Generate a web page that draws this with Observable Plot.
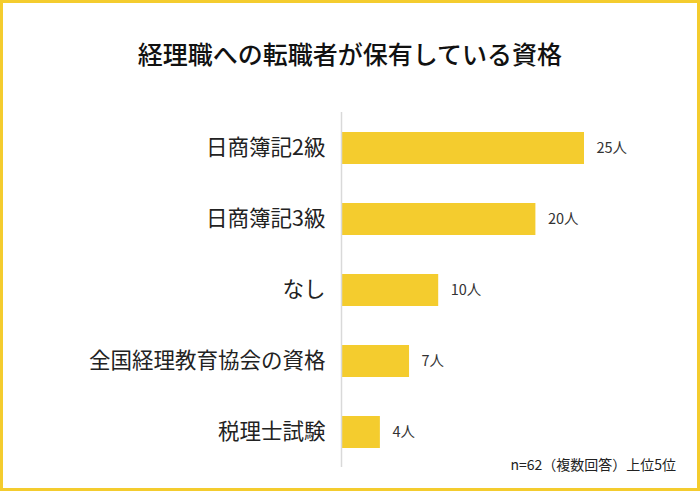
<!DOCTYPE html>
<html>
<head>
<meta charset="utf-8">
<script src="https://cdn.jsdelivr.net/npm/d3@7"></script>
<script src="https://cdn.jsdelivr.net/npm/@observablehq/plot@0.6"></script>
<style>
  html, body { margin: 0; padding: 0; background: #fff; }
  #wrap { position: relative; width: 700px; height: 491px; background: #fff; overflow: hidden;
          font-family: "Noto Sans CJK JP", "Noto Sans", sans-serif; }
  #title { height: 100px; box-sizing: border-box; padding-top: 6px; display: flex; align-items: center;
           justify-content: center; font-size: 25px; color: #111; font-weight: 500; }
  #frame { position: absolute; left: 0; top: 0; width: 700px; height: 491px; box-sizing: border-box;
           border: 3px solid #F4CC2E; pointer-events: none; }
  #note { position: absolute; right: 24px; top: 454px; font-size: 14px; color: #222; }
  svg { display: block; }
</style>
</head>
<body>
<div id="wrap">
  <div id="title">経理職への転職者が保有している資格</div>
  <div id="chart"></div>
  <div id="note">n=62（複数回答）上位5位</div>
  <div id="frame"></div>
</div>
<script>
const categories = ["日商簿記2級", "日商簿記3級", "なし", "全国経理教育協会の資格", "税理士試験"];
const counts = [25, 20, 10, 7, 4];
const unit = "人";

const data = categories.map((c, i) => ({category: c, value: counts[i]}));
const barColor = "#F4CC2E";

const chart = Plot.plot({
  width: 700,
  height: 391,
  marginTop: 12,
  marginBottom: 24,
  marginLeft: 341,
  marginRight: 116,
  style: {fontFamily: "'Noto Sans CJK JP', 'Noto Sans', sans-serif", background: "transparent"},
  x: {domain: [0, 25], axis: null},
  y: {domain: categories, paddingInner: 0.55, paddingOuter: 0.275, label: null},
  axis: null,
  marks: [
    Plot.axisY({tickSize: 0, tickPadding: 16, fontSize: 21.5, color: "#222", label: null}),
    Plot.barX(data, {x: "value", y: "category", fill: barColor}),
    Plot.ruleX([0], {stroke: "#d9d9d9", strokeWidth: 1.5}),
    Plot.text(data, {x: "value", y: "category", text: d => d.value + unit, textAnchor: "start", dx: 12,
                     fontSize: 14.5, fill: "#333"})
  ]
});
document.getElementById("chart").appendChild(chart);
</script>
</body>
</html>
